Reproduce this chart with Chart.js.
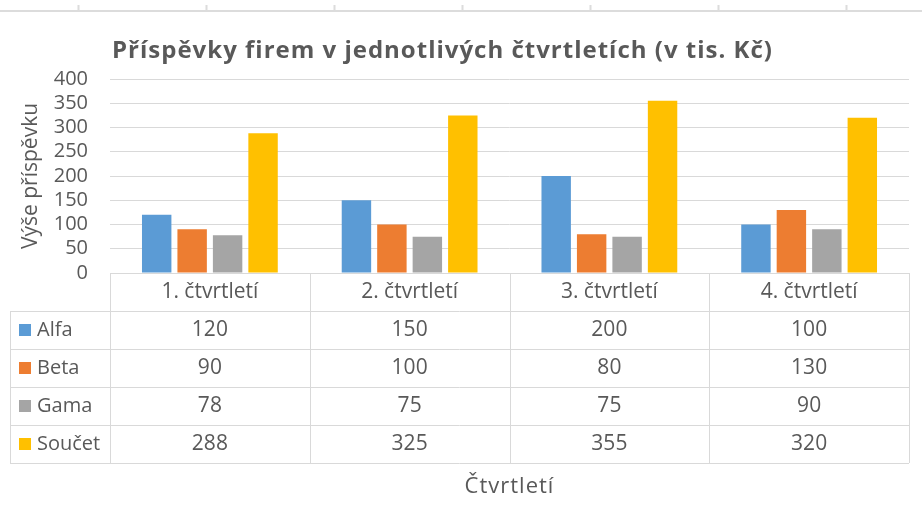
<!DOCTYPE html>
<html>
<head>
<meta charset="utf-8">
<script src="https://cdn.jsdelivr.net/npm/chart.js@4"></script>
<style>
    html, body { margin: 0; padding: 0; background: #fff; }
    #wrap { width: 922px; height: 505px; }
</style>
</head>
<body>
<div id="wrap"><canvas id="chart"></canvas></div>
<script>
const quarters = ['1. čtvrtletí', '2. čtvrtletí', '3. čtvrtletí', '4. čtvrtletí']
const seriesNames = ['Alfa', 'Beta', 'Gama', 'Součet']
const alfa = [120, 150, 200, 100]
const beta = [90, 100, 80, 130]
const gama = [78, 75, 75, 90]
const soucet = [288, 325, 355, 320]
const yTicks = [0, 50, 100, 150, 200, 250, 300, 350, 400]
const chartTitle = 'Příspěvky firem v jednotlivých čtvrtletích (v tis. Kč)'

const colors = ['#5B9BD5', '#ED7D31', '#A5A5A5', '#FFC000']
const textColor = '#595959'
const lineColor = '#d9d9d9'
const fontFamily = '"Open Sans", sans-serif'

// sheet border and column marks above the chart, plus the title
const sheetEdge = {
    id: 'sheetEdge',
    beforeDraw(chart) {
        const ctx = chart.ctx
        ctx.save()
        ctx.fillStyle = '#fff'
        ctx.fillRect(0, 0, chart.width, chart.height)
        ctx.strokeStyle = '#dcdcdc'
        ctx.lineWidth = 2
        ctx.beginPath()
        ctx.moveTo(0, 11)
        ctx.lineTo(chart.width, 11)
        for (let x = 78; x < chart.width; x += 128) {
            ctx.moveTo(x + 0.5, 5)
            ctx.lineTo(x + 0.5, 11)
        }
        ctx.stroke()

        ctx.fillStyle = textColor
        ctx.font = 'bold 24px ' + fontFamily
        ctx.letterSpacing = '1px'
        ctx.textAlign = 'left'
        ctx.textBaseline = 'alphabetic'
        ctx.fillText(chartTitle, 112, 58)
        ctx.restore()
    }
}

// data table under the plot, columns follow the x scale
const dataTable = {
    id: 'dataTable',
    afterDraw(chart) {
        const ctx = chart.ctx
        const xs = chart.scales.x
        const top = chart.chartArea.bottom
        const rowH = 38
        const labelLeft = 10
        const colW = (xs.right - xs.left) / quarters.length
        const rows = [alfa, beta, gama, soucet]
        const bottom = top + rowH * (rows.length + 1)

        ctx.save()
        ctx.strokeStyle = lineColor
        ctx.lineWidth = 1
        ctx.beginPath()
        ctx.moveTo(xs.left, top + 0.5)
        ctx.lineTo(xs.right, top + 0.5)
        for (let r = 1; r <= rows.length + 1; r++) {
            const y = Math.round(top + r * rowH) + 0.5
            ctx.moveTo(labelLeft, y)
            ctx.lineTo(xs.right, y)
        }
        ctx.moveTo(labelLeft + 0.5, top + rowH)
        ctx.lineTo(labelLeft + 0.5, bottom)
        for (let c = 0; c <= quarters.length; c++) {
            const x = Math.round(xs.left + c * colW) + 0.5
            ctx.moveTo(x, top)
            ctx.lineTo(x, bottom)
        }
        ctx.stroke()

        ctx.fillStyle = textColor
        ctx.font = '21px ' + fontFamily
        ctx.textAlign = 'center'
        ctx.textBaseline = 'middle'
        quarters.forEach((q, c) => {
            ctx.fillText(q, xs.left + (c + 0.5) * colW, top + rowH / 2)
        })
        rows.forEach((vals, r) => {
            const cy = top + (r + 1.5) * rowH
            vals.forEach((v, c) => {
                ctx.fillText(String(v), xs.left + (c + 0.5) * colW, cy)
            })
        })

        // series keys
        ctx.textAlign = 'left'
        ctx.font = '20px ' + fontFamily
        seriesNames.forEach((name, r) => {
            const cy = top + (r + 1.5) * rowH
            ctx.fillStyle = colors[r]
            ctx.fillRect(19, cy - 6, 12, 12)
            ctx.fillStyle = textColor
            ctx.fillText(name, 37, cy)
        })

        // category axis title
        ctx.textAlign = 'center'
        ctx.font = '22px ' + fontFamily
        ctx.letterSpacing = '1px'
        ctx.fillText('Čtvrtletí', (xs.left + xs.right) / 2, 487)
        ctx.restore()
    }
}

new Chart(document.getElementById('chart'), {
    type: 'bar',
    data: {
        labels: quarters,
        datasets: [alfa, beta, gama, soucet].map((vals, i) => ({
            label: seriesNames[i],
            data: vals,
            backgroundColor: colors[i],
            barPercentage: 0.83,
            categoryPercentage: 0.71
        }))
    },
    options: {
        responsive: true,
        maintainAspectRatio: false,
        animation: false,
        layout: { padding: { left: 0, right: 13, top: 79, bottom: 232 } },
        plugins: {
            legend: { display: false },
            tooltip: { enabled: false },
            title: { display: false }
        },
        scales: {
            x: { display: false },
            y: {
                min: 0,
                max: 400,
                afterFit: s => { s.width = 110 },
                afterBuildTicks: s => { s.ticks = yTicks.map(v => ({ value: v })) },
                border: { display: false },
                grid: { color: lineColor, drawTicks: false },
                ticks: {
                    color: textColor,
                    padding: 22,
                    autoSkip: false,
                    font: { family: fontFamily, size: 20 }
                },
                title: {
                    display: true,
                    text: 'Výše příspěvku',
                    color: textColor,
                    padding: { top: 18, bottom: 0 },
                    font: { family: fontFamily, size: 21 }
                }
            }
        }
    },
    plugins: [sheetEdge, dataTable]
})
</script>
</body>
</html>
